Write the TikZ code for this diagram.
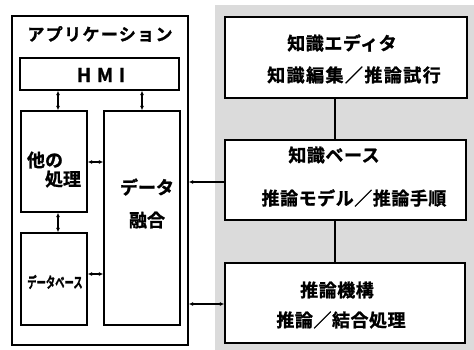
\documentclass[tikz,border=0pt]{standalone}
\usepackage{fontspec}
\setmainfont{Noto Sans CJK JP}
\newfontfamily\jpb[FakeBold=1.2]{Noto Sans CJK JP Bold}
\usetikzlibrary{arrows.meta}
\begin{document}
\begin{tikzpicture}[x=1pt,y=1pt,
  box/.style={draw=black,line width=1.4pt,fill=white,inner sep=0pt},
  lbl/.style={inner sep=0pt,font=\jpb},
  conn/.style={line width=1.1pt,{Latex[length=4.5pt,width=4pt]}-{Latex[length=4.5pt,width=4pt]}},
  oneway/.style={line width=1.1pt,-{Latex[length=4.5pt,width=4pt]}},
  plain/.style={line width=1.4pt}]
\useasboundingbox (0,0) rectangle (474,-350);
\fill[gray!28] (215,-5) rectangle (474,-350);
% application side
\node[box,minimum width=176pt,minimum height=329pt] (app) at (100,-180.5) {};
\node[lbl,font=\jpb\fontsize{17}{17}\selectfont\addfontfeature{LetterSpace=8}] (apptitle) at (100,-34) {アプリケーション};
\node[box,minimum width=159pt,minimum height=32pt] (hmi) at (99.5,-74) {};
\node[lbl,font=\jpb\fontsize{19}{19}\selectfont\addfontfeature{LetterSpace=30}] (hmit) at (101,-75) {HMI};
\node[box,minimum width=66pt,minimum height=101pt] (other) at (54,-161.5) {};
\node[lbl,font=\jpb\fontsize{18}{18}\selectfont] (othert1) at (45,-160) {他の};
\node[lbl,font=\jpb\fontsize{18}{18}\selectfont] (othert2) at (63,-179) {処理};
\node[box,minimum width=66pt,minimum height=92pt] (db) at (54,-279) {};
\node[lbl] (dbt) at (55,-282) {\scalebox{0.62}[1]{\jpb\fontsize{15}{15}\selectfont データベース}};
\node[box,minimum width=76pt,minimum height=214pt] (fusion) at (142,-218) {};
\node[lbl,font=\jpb\fontsize{18}{18}\selectfont] (fust1) at (147,-187) {データ};
\node[lbl,font=\jpb\fontsize{18}{18}\selectfont] (fust2) at (147,-220) {融合};
% knowledge side
\node[box,minimum width=242pt,minimum height=81pt] (editor) at (346,-57.5) {};
\node[lbl,font=\jpb\fontsize{18}{18}\selectfont\addfontfeature{LetterSpace=3}] (edt1) at (342,-43) {知識エディタ};
\node[lbl,font=\jpb\fontsize{18}{18}\selectfont\addfontfeature{LetterSpace=8}] (edt2) at (354,-75) {知識編集／推論試行};
\node[box,minimum width=241pt,minimum height=80pt] (kb) at (345.5,-180) {};
\node[lbl,font=\jpb\fontsize{18}{18}\selectfont\addfontfeature{LetterSpace=3}] (kbt1) at (334,-155) {知識ベース};
\node[lbl,font=\jpb\fontsize{18}{18}\selectfont\addfontfeature{LetterSpace=3}] (kbt2) at (354,-198) {推論モデル／推論手順};
\node[box,minimum width=240pt,minimum height=80pt] (eng) at (345,-303) {};
\node[lbl,font=\jpb\fontsize{18}{18}\selectfont\addfontfeature{LetterSpace=3}] (engt1) at (337,-290) {推論機構};
\node[lbl,font=\jpb\fontsize{18}{18}\selectfont\addfontfeature{LetterSpace=3}] (engt2) at (341,-320) {推論／結合処理};
% guide coordinates
\coordinate (xa) at (58,0);
\coordinate (xb) at (142,0);
\coordinate (xc) at (335,0);
\coordinate (ya) at (0,-162);
\coordinate (yb) at (0,-274);
\coordinate (yc) at (0,-182);
\coordinate (yd) at (0,-304);
% connectors
\draw[conn] (hmi.south -| xa) -- (other.north -| xa);
\draw[conn] (hmi.south -| xb) -- (fusion.north -| xb);
\draw[conn] (other.east |- ya) -- (fusion.west |- ya);
\draw[conn] (other.south -| xa) -- (db.north -| xa);
\draw[conn] (db.east |- yb) -- (fusion.west |- yb);
\draw[oneway] (kb.west |- yc) -- (app.east |- yc);
\draw[conn] (app.east |- yd) -- (eng.west |- yd);
\draw[plain] (editor.south -| xc) -- (kb.north -| xc);
\draw[plain] (kb.south -| xc) -- (eng.north -| xc);
\end{tikzpicture}
\end{document}
